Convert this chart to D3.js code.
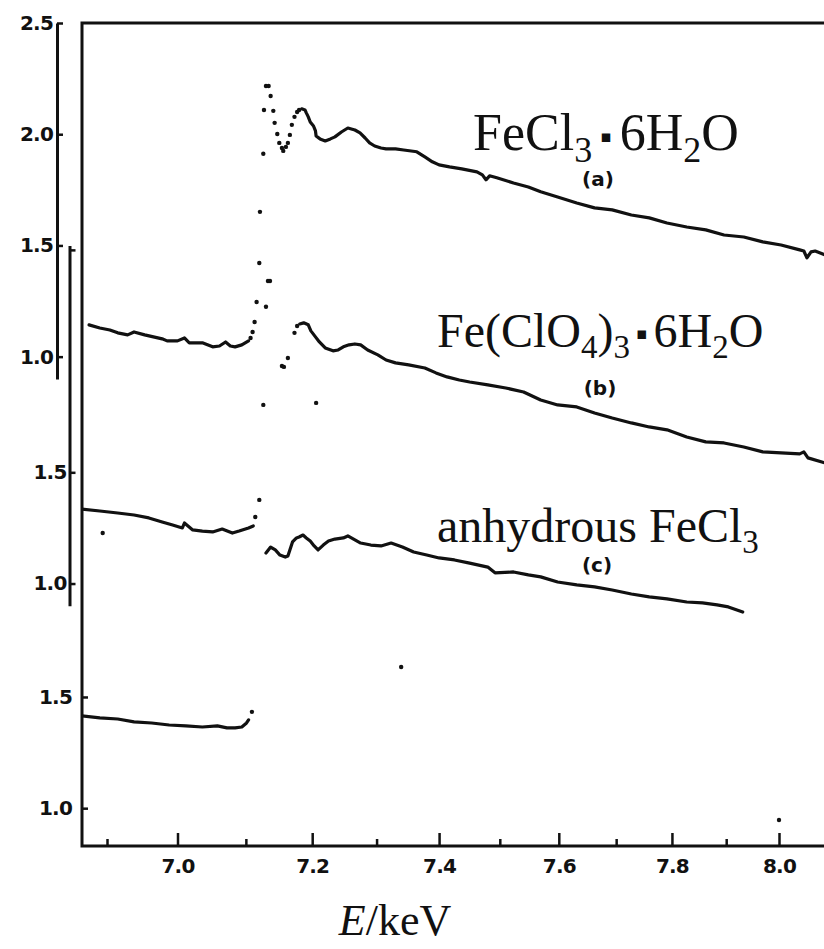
<!DOCTYPE html>
<html><head><meta charset="utf-8">
<script src="https://cdn.jsdelivr.net/npm/d3@7"></script>
<style>body{margin:0;background:#fff}</style>
</head><body>
<svg id="chart" width="824" height="949"></svg>
<script>
// ---------------- data ----------------
const xTicksMajor = [7.0, 7.2, 7.4, 7.6, 7.8, 8.0];
const xTicksMinor = [6.9, 7.1, 7.3, 7.5, 7.7, 7.9];
const axisATicks = [2.5, 2.0, 1.5, 1.0];
const axisBTicks = [2.5, 1.5, 1.0];
const axisCTicks = [1.5, 1.0];
const seriesOffsets = [0, 1.02, 2.03];   // vertical offset of spectra (b) and (c)
const seriesTags = ["(a)", "(b)", "(c)"];
const xTitle = ["E", "/keV"];
const labelA = [["FeCl",""],["3","sub"],["\u25AA","sym"],["6H",""],["2","sub"],["O",""]];
const labelB = [["Fe(ClO",""],["4","sub"],[")",""],["3","sub"],["\u25AA","sym"],["6H",""],["2","sub"],["O",""]];
const labelC = [["anhydrous FeCl",""],["3","sub"]];

// (a) FeCl3·6H2O  [E/keV, value]
const aPre = [[6.875,1.143],[6.890,1.129],[6.904,1.120],[6.915,1.107],[6.929,1.098],[6.938,1.111],[6.953,1.098],
  [6.978,1.080],[6.985,1.071],[7.000,1.071],[7.010,1.084],[7.017,1.062],[7.036,1.062],[7.051,1.044],[7.061,1.048],
  [7.070,1.066],[7.077,1.048],[7.084,1.044],[7.094,1.053],[7.104,1.071]];
const aEdge = [[7.107,1.084],[7.110,1.111],[7.113,1.156],[7.116,1.246],[7.120,1.421],[7.121,1.651],[7.126,1.912],
  [7.127,2.109],[7.130,2.217],[7.134,2.217],[7.137,2.172],[7.141,2.105],[7.143,2.051],[7.147,2.001],[7.150,1.961],
  [7.154,1.938],[7.156,1.925],[7.160,1.943],[7.163,1.961],[7.166,1.997],[7.169,2.042],[7.173,2.078],[7.177,2.100],
  [7.180,2.109]];
const aPost = [[7.184,2.114],[7.189,2.109],[7.191,2.096],[7.194,2.078],[7.197,2.055],[7.202,2.037],[7.205,2.015],
  [7.206,1.992],[7.212,1.979],[7.220,1.970],[7.228,1.979],[7.235,1.988],[7.245,2.010],[7.255,2.028],[7.266,2.019],
  [7.274,2.006],[7.282,1.983],[7.289,1.961],[7.297,1.947],[7.307,1.938],[7.315,1.934],[7.330,1.934],[7.343,1.929],
  [7.364,1.921],[7.377,1.898],[7.389,1.876],[7.400,1.862],[7.417,1.853],[7.437,1.844],[7.462,1.831],[7.471,1.817],
  [7.477,1.795],[7.483,1.813],[7.495,1.804],[7.523,1.781],[7.548,1.763],[7.569,1.741],[7.598,1.718],[7.631,1.691],
  [7.662,1.669],[7.693,1.660],[7.727,1.637],[7.759,1.624],[7.791,1.601],[7.827,1.583],[7.862,1.570],[7.896,1.547],
  [7.933,1.538],[7.969,1.516],[8.004,1.502],[8.040,1.480],[8.048,1.475],[8.054,1.444],[8.062,1.471],[8.070,1.475],
  [8.090,1.457]];

// (b) Fe(ClO4)3·6H2O
const bPre = [[6.865,1.335],[6.890,1.326],[6.915,1.317],[6.938,1.308],[6.959,1.295],[6.978,1.277],[6.993,1.263],
  [7.007,1.250],[7.010,1.272],[7.022,1.241],[7.036,1.236],[7.051,1.232],[7.065,1.245],[7.080,1.227],[7.090,1.236],
  [7.104,1.250],[7.111,1.259]];
const bEdge = [[7.114,1.299],[7.120,1.376],[7.126,1.803],[7.130,2.244],[7.133,2.360],[7.136,2.360],[7.154,1.978],
  [7.157,1.974],[7.163,2.014],[7.173,2.127],[7.177,2.158],[7.206,1.812],[6.894,1.227]];
const bPost = [[7.181,2.167],[7.187,2.172],[7.194,2.163],[7.198,2.136],[7.205,2.109],[7.211,2.086],[7.220,2.059],
  [7.232,2.046],[7.240,2.050],[7.248,2.064],[7.257,2.073],[7.266,2.077],[7.275,2.073],[7.286,2.050],[7.302,2.028],
  [7.315,2.005],[7.330,1.992],[7.351,1.983],[7.377,1.969],[7.395,1.947],[7.413,1.929],[7.433,1.915],[7.450,1.906],
  [7.480,1.893],[7.510,1.879],[7.540,1.861],[7.569,1.825],[7.598,1.803],[7.631,1.794],[7.662,1.767],[7.693,1.744],
  [7.727,1.722],[7.759,1.704],[7.791,1.691],[7.827,1.659],[7.862,1.637],[7.896,1.632],[7.933,1.614],[7.969,1.592],
  [8.004,1.587],[8.040,1.583],[8.048,1.592],[8.056,1.565],[8.090,1.542]];

// (c) anhydrous FeCl3
const cPre = [[6.865,1.415],[6.890,1.406],[6.915,1.401],[6.938,1.388],[6.963,1.383],[6.988,1.374],[7.012,1.370],
  [7.036,1.365],[7.058,1.370],[7.072,1.361],[7.084,1.361],[7.094,1.365],[7.101,1.383],[7.104,1.397]];
const cEdge = [[7.109,1.433],[7.339,1.635],[8.000,0.947]];
const cPost = [[7.130,2.147],[7.137,2.174],[7.144,2.161],[7.151,2.138],[7.159,2.129],[7.163,2.134],[7.166,2.161],
  [7.170,2.197],[7.176,2.215],[7.180,2.219],[7.186,2.228],[7.191,2.215],[7.197,2.201],[7.203,2.179],[7.209,2.161],
  [7.217,2.183],[7.225,2.201],[7.235,2.210],[7.248,2.215],[7.255,2.224],[7.266,2.206],[7.275,2.192],[7.291,2.183],
  [7.307,2.179],[7.323,2.192],[7.341,2.174],[7.359,2.152],[7.380,2.138],[7.400,2.125],[7.425,2.116],[7.450,2.102],
  [7.480,2.084],[7.492,2.058],[7.523,2.062],[7.548,2.049],[7.569,2.040],[7.598,2.017],[7.631,2.004],[7.662,1.995],
  [7.693,1.981],[7.727,1.963],[7.759,1.950],[7.791,1.941],[7.827,1.927],[7.856,1.923],[7.883,1.914],[7.904,1.905],
  [7.931,1.882]];

// ---------------- drawing ----------------
const W = 824, H = 949;
const frame = {left: 82, right: 824, top: 23, bottom: 846};
const svg = d3.select("#chart");
svg.append("rect").attr("width", W).attr("height", H).attr("fill", "#fff");

// energy axis is compressed toward high E (linear in monochromator angle)
const x = d3.scalePow().exponent(-1.15).domain([6.9, 8.0]).range([107, 779]);
const y = d3.scaleLinear().domain([-1.2, 2.5]).range([frame.bottom, frame.top]);

const INK = "#111";
const tickFont = "'DejaVu Sans', sans-serif";
const tickSize = 20;

svg.append("defs").append("clipPath").attr("id", "clip")
  .append("rect").attr("x", frame.left).attr("y", 0)
  .attr("width", frame.right - frame.left).attr("height", frame.bottom);

// left stacked axes
function leftAxis(xpos, offset, domain, ticks, pad, fmt) {
  const s = d3.scaleLinear().domain(domain).range(domain.map(v => y(v - offset)));
  const g = svg.append("g").attr("transform", `translate(${xpos},0)`)
    .call(d3.axisLeft(s).tickValues(ticks).tickSizeInner(-6).tickSizeOuter(0)
      .tickPadding(pad).tickFormat(fmt));
  g.selectAll(".domain").attr("stroke", INK).attr("stroke-width", 3);
  g.selectAll(".tick line").attr("stroke", INK).attr("stroke-width", 2.5);
  g.selectAll(".tick text").attr("font-family", tickFont).attr("font-weight", "bold")
    .attr("font-size", tickSize).attr("fill", INK).attr("letter-spacing", -0.8);
  return g;
}
const f1 = d3.format(".1f");
leftAxis(57, seriesOffsets[0], [0.9, 2.5], axisATicks, 4, f1);
leftAxis(69.5, seriesOffsets[1], [0.9, 2.52], axisBTicks, 3, d => d === 2.5 ? "" : f1(d));
const gc = leftAxis(frame.left, seriesOffsets[2], [0.83, 1.6], axisCTicks, 10, f1);
gc.select(".domain").remove();

// frame
svg.append("path")
  .attr("d", `M${frame.right},${frame.top}H${frame.left}V${frame.bottom}H${frame.right}`)
  .attr("fill", "none").attr("stroke", INK).attr("stroke-width", 3);

// x axis
const gx = svg.append("g").attr("transform", `translate(0,${frame.bottom})`)
  .call(d3.axisBottom(x).tickValues(xTicksMajor).tickSizeInner(-13).tickSizeOuter(0)
    .tickPadding(13).tickFormat(f1));
gx.select(".domain").remove();
gx.selectAll(".tick line").attr("stroke", INK).attr("stroke-width", 2.5);
gx.selectAll(".tick text").attr("font-family", tickFont).attr("font-weight", "bold")
  .attr("font-size", tickSize).attr("fill", INK).attr("letter-spacing", -0.8);
const gxm = svg.append("g").attr("transform", `translate(0,${frame.bottom})`)
  .call(d3.axisBottom(x).tickValues(xTicksMinor).tickSizeInner(-7).tickSizeOuter(0).tickFormat(""));
gxm.select(".domain").remove();
gxm.selectAll(".tick line").attr("stroke", INK).attr("stroke-width", 2.5);

// x title
const xt = svg.append("text").attr("x", 395).attr("y", 935).attr("text-anchor", "middle")
  .attr("font-family", "'Liberation Serif', serif").attr("font-size", 44).attr("fill", INK);
xt.append("tspan").attr("font-style", "italic").text(xTitle[0]);
xt.append("tspan").text(xTitle[1]);

// spectra
const plot = svg.append("g").attr("clip-path", "url(#clip)");
const series = [[aPre, aEdge, aPost], [bPre, bEdge, bPost], [cPre, cEdge, cPost]];
series.forEach(([pre, edge, post], i) => {
  const off = seriesOffsets[i];
  const line = d3.line().x(d => x(d[0])).y(d => y(d[1] - off));
  [pre, post].forEach(seg => plot.append("path").attr("d", line(seg))
    .attr("fill", "none").attr("stroke", INK).attr("stroke-width", 3.2)
    .attr("stroke-linejoin", "round").attr("stroke-linecap", "round"));
  plot.selectAll(null).data(edge).enter().append("circle")
    .attr("cx", d => x(d[0])).attr("cy", d => y(d[1] - off)).attr("r", 2.2).attr("fill", INK);
});

// compound labels
function formula(parts, px, py, size, gap) {
  const t = svg.append("text").attr("x", px).attr("y", py)
    .attr("font-family", "'Liberation Serif', 'Times New Roman', serif")
    .attr("font-size", size).attr("fill", INK);
  const subSize = Math.round(size * 0.69), subDy = Math.round(size * 0.23);
  let shifted = 0, afterSym = false;
  parts.forEach(([s, kind]) => {
    const ts = t.append("tspan").text(s);
    let dy = 0;
    if (kind === "sub") { dy = subDy - shifted; shifted = subDy; ts.attr("font-size", subSize); }
    else if (kind === "sym") { dy = -8 - shifted; shifted = -8;
      ts.attr("font-family", "'DejaVu Sans', sans-serif").attr("font-size", 17).attr("dx", gap); }
    else { dy = -shifted; shifted = 0; if (afterSym) ts.attr("dx", gap); }
    afterSym = kind === "sym";
    if (dy) ts.attr("dy", dy);
  });
  return t;
}
formula(labelA, 473, 150, 52, 8);
formula(labelB, 437, 347, 48, 6);
formula(labelC, 437, 542, 48, 6);

// (a) (b) (c) tags
const tagPos = [[598, 186], [600, 395], [597, 572]];
seriesTags.forEach((s, i) => svg.append("text").attr("x", tagPos[i][0]).attr("y", tagPos[i][1])
  .attr("text-anchor", "middle").attr("font-family", tickFont).attr("font-weight", "bold")
  .attr("font-size", 20).attr("fill", INK).text(s));
</script>
</body></html>
